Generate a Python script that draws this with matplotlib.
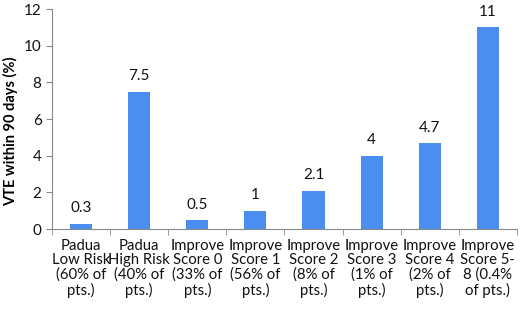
import matplotlib.pyplot as plt
import numpy as np

categories = ["Padua\nLow Risk\n(60% of\npts.)", "Padua\nHigh Risk\n(40% of\npts.)",
              "Improve\nScore 0\n(33% of\npts.)", "Improve\nScore 1\n(56% of\npts.)",
              "Improve\nScore 2\n(8% of\npts.)", "Improve\nScore 3\n(1% of\npts.)",
              "Improve\nScore 4\n(2% of\npts.)", "Improve\nScore 5-\n8 (0.4%\nof pts.)"]
values = [0.3, 7.5, 0.5, 1, 2.1, 4, 4.7, 11]
value_labels = ["0.3", "7.5", "0.5", "1", "2.1", "4", "4.7", "11"]

plt.rcParams['font.family'] = ['Lato', 'DejaVu Sans']

fig = plt.figure(figsize=(5.2, 3.15), dpi=100)
ax = fig.add_axes([0.1, 0.273, 0.894, 0.698])

x = np.arange(len(values))
bars = ax.bar(x, values, width=0.38, color='#4a8ef0')
for xi, v, lab in zip(x, values, value_labels):
    ax.text(xi, v + 0.45, lab, ha='center', va='bottom', fontsize=11, color='#111111')

ax.set_xlim(-0.5, len(values) - 0.5)
ax.set_ylim(0, 12)
ax.set_yticks(range(0, 13, 2))
ax.set_xticks(x)
ax.set_xticklabels(categories, fontsize=10.7, linespacing=1.05, color='#111111')
ax.set_xticks(np.arange(-0.5, len(values), 1), minor=True)
ax.tick_params(axis='x', which='major', length=0, pad=7)
ax.tick_params(axis='x', which='minor', length=4, color='#888888')
ax.tick_params(axis='y', labelsize=11, length=4, color='#888888', labelcolor='#111111')
ax.set_ylabel('VTE within 90 days (%)', fontsize=10.5, fontweight='bold')
ax.yaxis.set_label_coords(-0.072, 0.445)

for s in ['top', 'right']:
    ax.spines[s].set_visible(False)
for s in ['left', 'bottom']:
    ax.spines[s].set_color('#888888')

plt.savefig('out.png')
